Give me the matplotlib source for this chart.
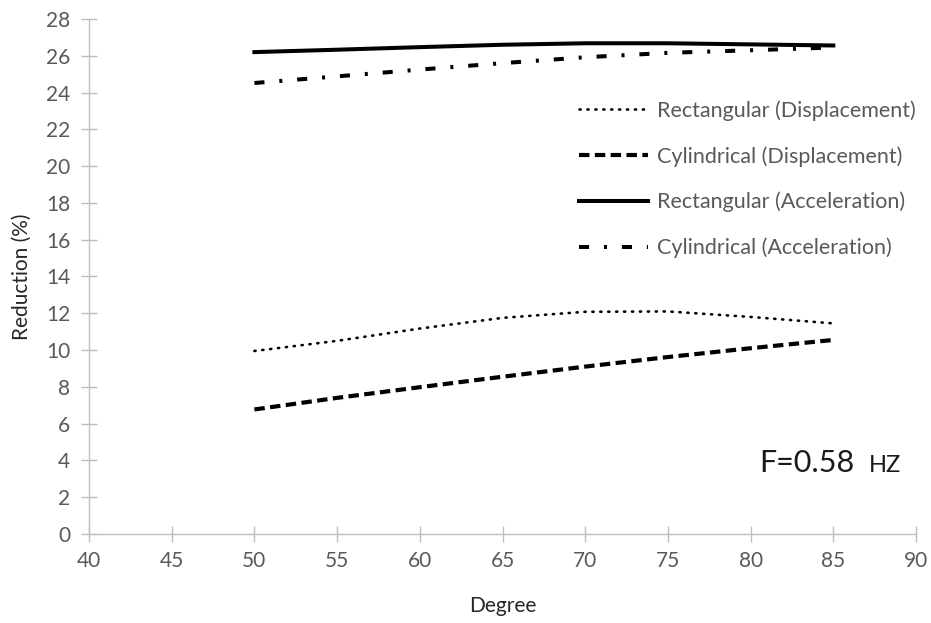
import matplotlib
matplotlib.use("Agg")
import matplotlib.pyplot as plt

# Reduction (%) versus angle, at F = 0.58 Hz
degree = [50, 55, 60, 65, 70, 75, 80, 85]
rect_disp = [9.95, 10.5, 11.17, 11.75, 12.08, 12.1, 11.8, 11.45]
cyl_disp = [6.77, 7.4, 7.98, 8.55, 9.1, 9.62, 10.1, 10.55]
rect_acc = [26.2, 26.33, 26.47, 26.6, 26.68, 26.68, 26.62, 26.56]
cyl_acc = [24.52, 24.88, 25.25, 25.6, 25.92, 26.16, 26.3, 26.45]

x_ticks = list(range(40, 91, 5))
y_ticks = list(range(0, 29, 2))

plt.rcParams['font.family'] = ['Lato', 'DejaVu Sans']

fig = plt.figure(figsize=(9.31, 6.23), dpi=100)
ax = fig.add_axes([0.0956, 0.1429, 0.8883, 0.8266])

ax.plot(degree, rect_disp, color='black', lw=1.9, linestyle=(0, (0.45, 2.55)),
        dash_capstyle='round', label='Rectangular (Displacement)')
ax.plot(degree, cyl_disp, color='black', lw=3.0, linestyle=(0, (2.5, 1.3)),
        label='Cylindrical (Displacement)')
ax.plot(degree, rect_acc, color='black', lw=2.9, linestyle='-',
        label='Rectangular (Acceleration)')
ax.plot(degree, cyl_acc, color='black', lw=2.9, linestyle=(0, (2.5, 3.7, 0.75, 3.7)),
        label='Cylindrical (Acceleration)')

ax.set_xlim(40, 90)
ax.set_ylim(0, 28)
ax.set_xticks(x_ticks)
ax.set_yticks(y_ticks)

for side in ['top', 'right']:
    ax.spines[side].set_visible(False)
for side in ['left', 'bottom']:
    ax.spines[side].set_color('#bfbfbf')
    ax.spines[side].set_linewidth(1.0)

ax.tick_params(axis='both', colors='#bfbfbf', labelcolor='#595959',
               labelsize=15, direction='inout', length=11, width=1.0)
ax.tick_params(axis='x', pad=7)
ax.tick_params(axis='y', pad=8)

ax.set_xlabel('Degree', fontsize=15, color='#262626', labelpad=18)
ax.set_ylabel('Reduction (%)', fontsize=15, color='#262626', labelpad=10)

leg = ax.legend(loc='upper left', bbox_to_anchor=(0.622, 0.839),
                bbox_transform=fig.transFigure, frameon=False,
                fontsize=15.5, handlelength=3.2, handletextpad=0.4,
                labelspacing=1.17, borderpad=0, borderaxespad=0)
for txt in leg.get_texts():
    txt.set_color('#595959')

# frequency note, placed in pixel coordinates (origin at bottom-left)
ax.text(759, 151, 'F=0.58', transform=None, fontsize=22, color='#1a1a1a',
        va='baseline', ha='left')
ax.text(901, 151, 'HZ', transform=None, fontsize=17, color='#1a1a1a',
        va='baseline', ha='right')

fig.savefig('out.png', dpi=100)
